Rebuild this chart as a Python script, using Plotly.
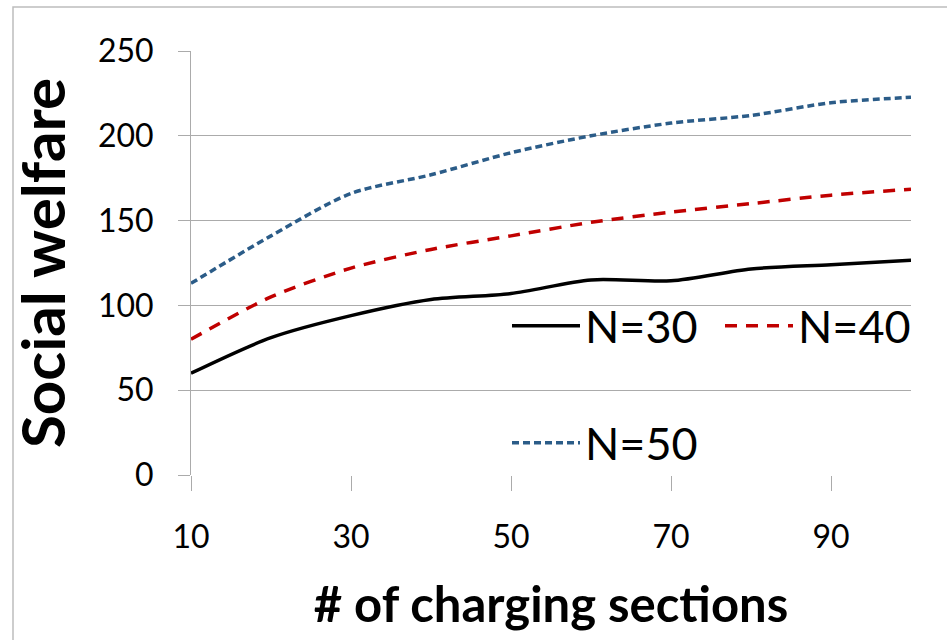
import plotly.graph_objects as go

sections = [10, 20, 30, 40, 50, 60, 70, 80, 90, 100]
n30 = [60, 81, 94, 103.5, 107, 115, 114.5, 121.5, 124, 126.6]
n40 = [80, 105, 122, 133, 141, 149, 155, 160, 165, 168.5]
n50 = [113, 141, 166, 177, 190, 200, 207.5, 212, 219.5, 222.7]
x_ticks = [10, 30, 50, 70, 90]
y_ticks = [0, 50, 100, 150, 200, 250]

FONT = "Lato"
W, H = 947, 640
L, T, B = 191, 51, 165
PW = W - L          # paper width (right margin 0)
PH = H - T - B      # paper height
PLOT_RIGHT = 911


def px(xp):
    return (xp - L) / PW


def py(yp):
    return (H - B - yp) / PH


fig = go.Figure()
fig.add_trace(go.Scatter(x=sections, y=n30, name="N=30", mode="lines",
                         line=dict(color="black", width=3.5, shape="spline", smoothing=0.8),
                         legend="legend"))
fig.add_trace(go.Scatter(x=sections, y=n40, name="N=40", mode="lines",
                         line=dict(color="#C00000", width=3.5, dash="12px,9px", shape="spline", smoothing=0.8),
                         legend="legend"))
fig.add_trace(go.Scatter(x=sections, y=n50, name="N=50", mode="lines",
                         line=dict(color="#2B5C88", width=3.5, dash="7px,4px", shape="spline", smoothing=0.8),
                         legend="legend2"))

axis_gray = "#ABABAB"
fig.update_layout(
    width=W, height=H,
    margin=dict(l=L, r=0, t=T, b=B, autoexpand=False),
    plot_bgcolor="white", paper_bgcolor="white",
    font=dict(family=FONT, color="black"),
    xaxis=dict(domain=[0, px(PLOT_RIGHT)], range=[10, 100], tickvals=x_ticks, ticks="outside", ticklen=15,
               tickcolor=axis_gray, showgrid=False, zeroline=False, showline=False,
               tickfont=dict(size=32, family=FONT), ticklabelstandoff=19,
               title=dict(text="<b># of charging sections</b>", font=dict(size=49, family=FONT), standoff=33)),
    yaxis=dict(range=[0, 250], tickvals=y_ticks, ticks="outside", ticklen=12,
               tickcolor=axis_gray, showgrid=True, gridcolor=axis_gray, gridwidth=1,
               zeroline=False, showline=True, linecolor=axis_gray, linewidth=1,
               tickfont=dict(size=32, family=FONT), ticklabelstandoff=18,
               title=dict(text="<b>Social welfare</b>", font=dict(size=60, family=FONT), standoff=12)),
    legend=dict(orientation="h", x=px(507), y=py(290),
                xanchor="left", yanchor="top", bgcolor="rgba(0,0,0,0)",
                font=dict(size=45, family=FONT), itemwidth=68, entrywidth=130),
    legend2=dict(orientation="h", x=px(507), y=py(407),
                 xanchor="left", yanchor="top", bgcolor="rgba(0,0,0,0)",
                 font=dict(size=45, family=FONT), itemwidth=68),
    shapes=[dict(type="rect", xref="paper", yref="paper",
                 x0=px(13), x1=px(970), y0=py(660), y1=py(7),
                 line=dict(color="#BDBDBD", width=1.5), layer="below")],
)
fig.write_html("out.html")
